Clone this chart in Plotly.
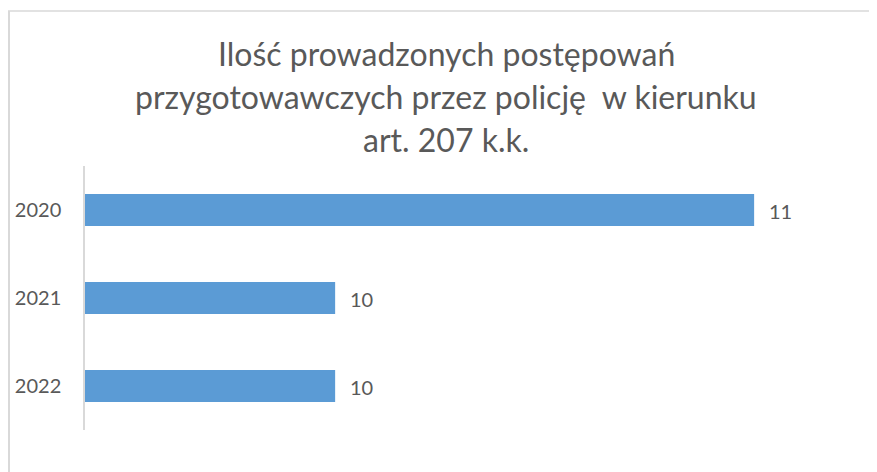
import plotly.graph_objects as go

# Data
years = ["2020", "2021", "2022"]
counts = [11, 10, 10]
title_lines = [
    "Ilość prowadzonych postępowań",
    "przygotowawczych przez policję  w kierunku",
    "art. 207 k.k.",
]

BAR_COLOR = "#5B9BD5"
TEXT_COLOR = "#595959"
GRID_COLOR = "#D9D9D9"
FONT = "Lato"

# page has an 8px body margin, so the figure is drawn 8px smaller and offset
OFF = 8
W, H = 877 - OFF, 472 - OFF
L, R, T, B = 85 - OFF, 42, 166 - OFF, 42
plot_h = H - T - B
plot_w = W - L - R

def py2paper(py):
    # py in page pixels
    return (H - B - (py - OFF)) / plot_h

def px2paper(px):
    return (px - OFF - L) / plot_w

fig = go.Figure()
fig.add_trace(go.Bar(
    x=counts,
    y=years,
    orientation="h",
    marker=dict(color=BAR_COLOR, line=dict(width=0)),
    hoverinfo="skip",
))

annotations = []
# data labels
for i, v in enumerate(counts):
    annotations.append(dict(
        x=v, y=i, xref="x", yref="y", text=str(v), showarrow=False,
        xanchor="left", yanchor="middle", xshift=13, yshift=-1,
        font=dict(family=FONT, size=20, color=TEXT_COLOR),
    ))
# title lines
title_y = [54, 96, 139]
for line, ty in zip(title_lines, title_y):
    annotations.append(dict(
        x=px2paper(446), y=py2paper(ty), xref="paper", yref="paper",
        text=line, showarrow=False, xanchor="center", yanchor="middle",
        font=dict(family=FONT, size=32, color=TEXT_COLOR),
    ))

shapes = [
    dict(type="line", xref="paper", yref="paper",
         x0=px2paper(8), x1=px2paper(900), y0=py2paper(11), y1=py2paper(11),
         line=dict(color=GRID_COLOR, width=1.5)),
    dict(type="line", xref="paper", yref="paper",
         x0=px2paper(9), x1=px2paper(9), y0=py2paper(11), y1=py2paper(500),
         line=dict(color=GRID_COLOR, width=2)),
]

fig.update_layout(
    width=W, height=H,
    margin=dict(l=L, r=R, t=T, b=B),
    paper_bgcolor="white", plot_bgcolor="white",
    showlegend=False,
    bargap=0.636,
    annotations=annotations,
    shapes=shapes,
    font=dict(family=FONT, color=TEXT_COLOR),
)
fig.update_xaxes(
    range=[9.403, 11.193], visible=False, showgrid=False, zeroline=False,
    automargin=False,
)
fig.update_yaxes(
    type="category", categoryorder="array", categoryarray=years,
    range=[2.5, -0.5], autorange=False, automargin=False,
    showline=True, linecolor=GRID_COLOR, linewidth=1.5,
    showgrid=False, zeroline=False, ticks="",
    ticklabelstandoff=18,
    tickfont=dict(family=FONT, size=20, color=TEXT_COLOR),
)

fig.write_html("out.html")
